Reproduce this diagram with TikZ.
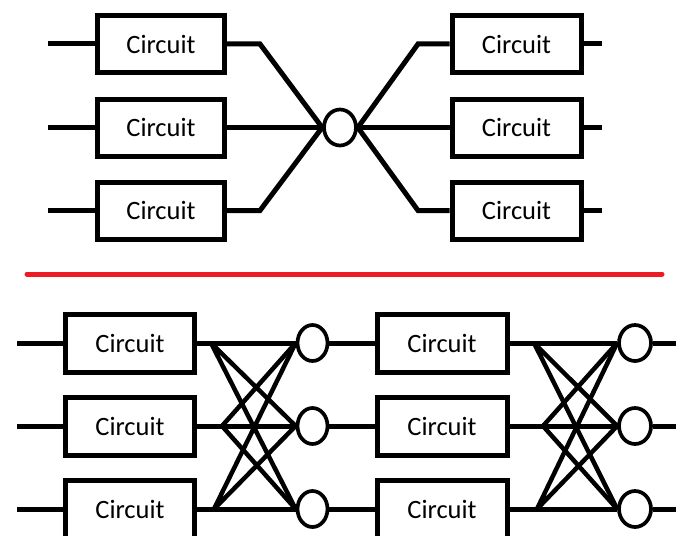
\documentclass[tikz,border=0pt]{standalone}
\usepackage{fontspec}
\setmainfont{Carlito}
\usetikzlibrary{shapes.geometric}
\definecolor{sepred}{RGB}{237,28,36}
\begin{document}
\begin{tikzpicture}[x=1pt,y=-1pt,
  wire/.style={line width=5pt},
  xwire/.style={line width=4.5pt},
  cbox/.style={draw,line width=5pt,inner sep=0pt,minimum height=57pt,
    font=\fontsize{26.5}{30}\selectfont},
  junc/.style={draw,ellipse,line width=3.7pt,inner sep=0pt,
    minimum width=30pt,minimum height=36pt}]
\useasboundingbox (0,0) rectangle (682,535);
\clip (0,0) rectangle (682,535);

% ---------- top section ----------
\foreach \i/\y in {1/44,2/127.5,3/210.5}{
  \node[cbox,minimum width=127pt] (L\i) at (161,\y) {Circuit};
  \node[cbox,minimum width=129pt] (R\i) at (516.5,\y) {Circuit};
  \coordinate (li\i) at (48,\y);
  \coordinate (ro\i) at (602,\y);
}
\node[junc,minimum width=32pt] (J) at (340,127.5) {};
\coordinate (lb1) at (260,44);
\coordinate (lb3) at (260,210.5);
\coordinate (rb1) at (418,44);
\coordinate (rb3) at (418,210.5);
\foreach \i in {1,2,3}{
  \draw[wire] (li\i) -- (L\i.west);
  \draw[wire] (R\i.east) -- (ro\i);
}
\draw[wire] (L1.east) -- (lb1) -- (J.west);
\draw[wire] (L2.east) -- (J.west);
\draw[wire] (L3.east) -- (lb3) -- (J.west);
\draw[wire] (J.east) -- (rb1) -- (R1.west);
\draw[wire] (J.east) -- (R2.west);
\draw[wire] (J.east) -- (rb3) -- (R3.west);

% ---------- separator ----------
\coordinate (s1) at (27,274);
\coordinate (s2) at (662,274);
\draw[line width=5pt,line cap=round,sepred] (s1) -- (s2);

% ---------- bottom section ----------
\foreach \i/\y in {1/343,2/426,3/509}{
  \node[cbox,minimum width=128.5pt,minimum height=58pt] (A\i) at (130,\y) {Circuit};
  \node[cbox,minimum width=130pt,minimum height=58pt] (B\i) at (442,\y) {Circuit};
  \node[junc] (P\i) at (312.5,\y) {};
  \node[junc,minimum width=32pt] (Q\i) at (635,\y) {};
  \coordinate (ai\i) at (17,\y);
  \coordinate (qo\i) at (676,\y);
  \draw[wire] (ai\i) -- (A\i.west);
  \draw[wire] (A\i.east) -- (P\i.west);
  \draw[wire] (P\i.east) -- (B\i.west);
  \draw[wire] (B\i.east) -- (Q\i.west);
  \draw[wire] (Q\i.east) -- (qo\i);
}
\coordinate (pa1) at (211,343);
\coordinate (pa2) at (222,426);
\coordinate (pa3) at (214,509);
\coordinate (qa1) at (534,343);
\coordinate (qa2) at (543,426);
\coordinate (qa3) at (537,509);
\draw[xwire] (pa1) -- (P2.west) (pa1) -- (P3.west);
\draw[xwire] (pa2) -- (P1.west) (pa2) -- (P3.west);
\draw[xwire] (pa3) -- (P1.west) (pa3) -- (P2.west);
\draw[xwire] (qa1) -- (Q2.west) (qa1) -- (Q3.west);
\draw[xwire] (qa2) -- (Q1.west) (qa2) -- (Q3.west);
\draw[xwire] (qa3) -- (Q1.west) (qa3) -- (Q2.west);
\end{tikzpicture}
\end{document}
